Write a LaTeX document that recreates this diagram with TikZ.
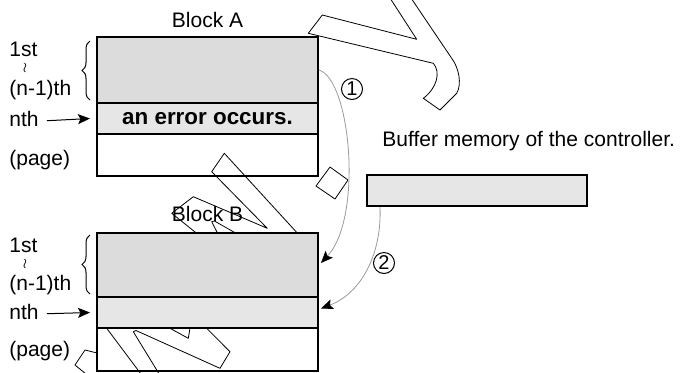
\documentclass[tikz,border=0pt]{standalone}
\usepackage{fontspec}
\setmainfont{Liberation Sans}
\usepackage{tikz}
\usetikzlibrary{arrows.meta,decorations.pathreplacing}

\definecolor{rowgray}{HTML}{DCDCDC}
\definecolor{errgray}{HTML}{E6E6E6}
\definecolor{curvegray}{HTML}{9A9A9A}

\begin{document}
\begin{tikzpicture}[x=0.5pt,y=-0.5pt,
		font=\fontsize{10.5}{12}\selectfont,
		row/.style={draw=black, line width=1pt, minimum width=110.5pt, inner sep=0pt},
		wmark/.style={draw=black, line width=0.4pt, line join=round}]
	\useasboundingbox (0,0) rectangle (680,372);
	% outlines behind the blocks
	\draw[wmark] (390,-2) -- (416.7,39.3) -- (322.3,15) -- (308.3,33.3) -- (433.3,63.3)
		.. controls (441,72) and (437,88) .. (423.3,98.3) -- (440,110) -- (456.7,93.3)
		.. controls (462,84) and (459,68) .. (451.7,58.3) -- (411,-2);
	\draw[wmark] (330,167) -- (348,180) -- (335,199) -- (316,186) -- cycle;
	\draw[wmark] (300,236) -- (224.3,153.3) -- (211.7,171.7) -- (267.3,228.3) -- (193.3,196.7) -- (171.7,213.3) -- (200,236);
	\draw[wmark] (219,236) -- (211.7,221.7) -- (214.5,221) -- (240.8,236);
	\draw[wmark] (104.2,325) -- (141,374);
	\draw[wmark] (160.4,376) -- (133.3,331.7) -- (136,330.5) -- (220,368.3) -- (230,351.7) -- (203.4,325);
	\draw[wmark] (164,325) -- (188.3,338.3) -- (190.5,325);
	\draw[wmark] (86,374) -- (75,365) -- (85,350) -- (97,353);
	\begin{scope}[every node/.style={row}]
		\node[fill=rowgray, minimum height=33pt] (aTop) at (207.5,70) {};
		\node[fill=errgray, minimum height=15.5pt, font=\bfseries\fontsize{11.2}{13}\selectfont] (aErr) at (207.5,118.5) {an error occurs.};
		\node[minimum height=21pt] (aPage) at (207.5,155) {};
		\node[fill=rowgray, minimum height=32pt] (bTop) at (207.5,265) {};
		\node[fill=errgray, minimum height=15.5pt] (bErr) at (207.5,312.5) {};
		\node[minimum height=21.5pt] (bPage) at (207.5,349.5) {};
		\node[fill=errgray, minimum width=110pt, minimum height=15.5pt] (buf) at (477,190.5) {};
	\end{scope}
	\begin{scope}[every node/.style={anchor=base west, inner sep=0pt}]
		\node[anchor=base] (aName) at (207.5,27) {Block A};
		\node[anchor=base] (bName) at (207.5,221) {Block B};
		\node (bufName) at (382,146) {Buffer memory of the controller.};
		\node (aFirst) at (9,56) {1st};
		\node (aLast) at (9,95) {(n-1)th};
		\node (aNth) at (9,126) {nth};
		\node (aPg) at (9,165) {(page)};
		\node (bFirst) at (9,252) {1st};
		\node (bLast) at (9,290) {(n-1)th};
		\node (bNth) at (9,319) {nth};
		\node (bPg) at (9,356) {(page)};
		\node[anchor=center, font=\fontsize{7}{7}\selectfont] (aWave) at (25,68) {$\wr$};
		\node[anchor=center, font=\fontsize{7}{7}\selectfont] (bWave) at (25,264) {$\wr$};
	\end{scope}
	\begin{scope}[every node/.style={circle, draw=black, line width=0.5pt, minimum size=10.5pt, inner sep=0pt, font=\fontsize{10}{10}\selectfont}]
		\node (one) at (352,89) {1};
		\node (two) at (384,263) {2};
	\end{scope}
	\begin{scope}[line width=0.5pt]
		\draw[decorate, decoration={brace, amplitude=4pt}] (90,100) -- (90,41);
		\draw[decorate, decoration={brace, amplitude=4pt}] (90,294) -- (90,235);
	\end{scope}
	\begin{scope}[>={Stealth[black, length=6pt, width=5pt, inset=1.2pt]}]
		\draw[->, line width=0.5pt] ([xshift=4pt]aNth.mid east) -- ([xshift=-3pt]aErr.west);
		\draw[->, line width=0.5pt] ([xshift=4pt]bNth.mid east) -- ([xshift=-3pt]bErr.west);
		\draw[->, draw=curvegray, line width=0.4pt] (aTop.east) .. controls +(32,10) and +(42,-45) .. ([xshift=1pt,yshift=1pt]bTop.east);
		\draw[->, draw=curvegray, line width=0.4pt] ([xshift=7pt]buf.south west) .. controls +(2,44) and +(42,-16) .. ([xshift=1pt,yshift=2pt]bErr.east);
	\end{scope}
\end{tikzpicture}
\end{document}
